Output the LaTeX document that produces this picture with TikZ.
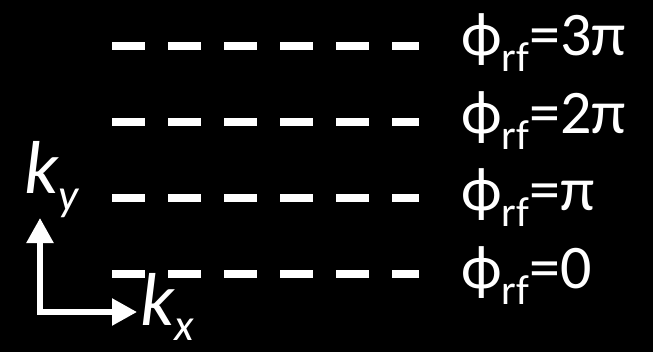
\documentclass[tikz,border=0pt]{standalone}
\usepackage{fontspec}
\setmainfont{Carlito}
\usetikzlibrary{arrows.meta}
\begin{document}
\begin{tikzpicture}[x=1bp,y=-1bp,
  dashrow/.style={draw=white,line width=8bp,dash pattern=on 32.5bp off 23.5bp},
  axis/.style={draw=white,line width=5.5bp,{Triangle[length=25bp,width=26bp]}-{Triangle[length=25bp,width=26bp]}},
  lab/.style={text=white,anchor=base west,inner sep=0pt,font=\fontsize{62bp}{66bp}\selectfont},
  klab/.style={text=white,anchor=base west,inner sep=0pt,font=\itshape\fontsize{75bp}{80bp}\selectfont}]
\fill[black] (0,0) rectangle (653,352);
\useasboundingbox (0,0) rectangle (653,352);
\newcommand{\phirf}[1]{ϕ\raisebox{-16bp}[0pt][0pt]{\fontsize{42bp}{44bp}\selectfont rf}=#1}
\newcommand{\ksub}[2]{\raisebox{-#1}[0pt][0pt]{\fontsize{45bp}{48bp}\selectfont #2}}
% dashed rows
\coordinate (r1a) at (112,46);   \coordinate (r1b) at (419,46);
\coordinate (r2a) at (112,121.8);\coordinate (r2b) at (419,121.8);
\coordinate (r3a) at (112,197.7);\coordinate (r3b) at (419,197.7);
\coordinate (r4a) at (112,273.5);\coordinate (r4b) at (419,273.5);
\draw[dashrow] (r1a) -- (r1b);
\draw[dashrow] (r2a) -- (r2b);
\draw[dashrow] (r3a) -- (r3b);
\draw[dashrow] (r4a) -- (r4b);
% labels
\node[lab] (l1) at (461,55) {\phirf{3π}};
\node[lab] (l2) at (461,133) {\phirf{2π}};
\node[lab] (l3) at (461,210) {\phirf{π}};
\node[lab] (l4) at (461,288) {\phirf{0}};
% axes
\coordinate (ytip) at (40,218);
\coordinate (xtip) at (137,312);
\draw[axis] (ytip) |- (xtip);
\node[klab] (ky) at (24,193) {k\ksub{17bp}{y}};
\node[klab] (kx) at (140,325) {k\ksub{15bp}{x}};
\end{tikzpicture}
\end{document}
